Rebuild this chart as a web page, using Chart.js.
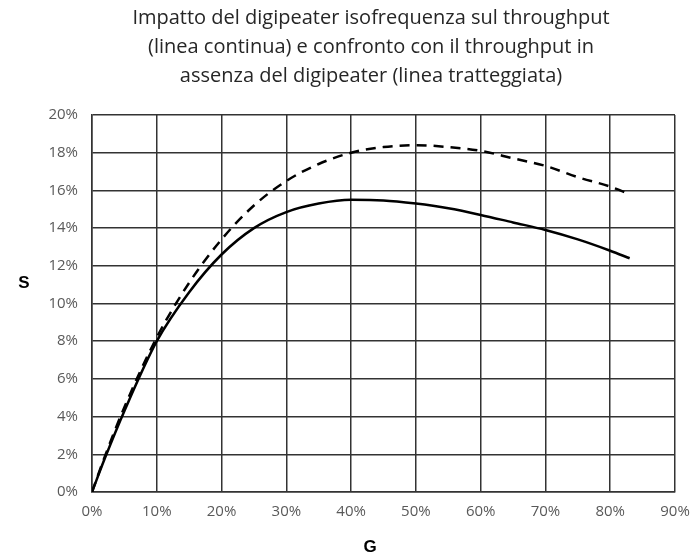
<!DOCTYPE html>
<html>
<head>
<meta charset="utf-8">
<script src="https://cdn.jsdelivr.net/npm/chart.js@4.4.1/dist/chart.umd.min.js"></script>
<style>
  html, body { margin: 0; padding: 0; background: #fff; }
  #wrap { width: 691px; height: 558px; position: relative; }
</style>
</head>
<body>
<div id="wrap"><canvas id="c"></canvas></div>
<script>
// values (percent)
const titleLines = [
  'Impatto del digipeater isofrequenza sul throughput',
  '(linea continua) e confronto con il throughput in',
  'assenza del digipeater (linea tratteggiata)'
];
const xLabel = 'G';
const yLabel = 'S';
const gValues = [0, 2, 5, 10, 15, 20, 25, 30, 35, 40, 45, 50, 55, 60, 65, 70, 75, 80, 83];
const sWithDigi = [0, 1.8, 4.3, 8.0, 10.6, 12.6, 14.0, 14.85, 15.3, 15.5, 15.47, 15.3, 15.05, 14.7, 14.3, 13.9, 13.4, 12.8, 12.4];
const sWithoutDigi = [0, 1.9, 4.5, 8.2, 11.1, 13.4, 15.2, 16.5, 17.4, 18.0, 18.3, 18.4, 18.3, 18.1, 17.7, 17.3, 16.7, 16.2, 15.8];
const xMax = 90, xStep = 10;
const yMax = 20, yStep = 2;

const toPoints = (xs, ys) => xs.map((x, i) => ({ x: x, y: ys[i] }));

// title and axis letters drawn by hand so they sit where the original has them
const labelsPlugin = {
  id: 'manualLabels',
  afterDraw(chart) {
    const ctx = chart.ctx;
    ctx.save();
    ctx.textAlign = 'center';
    ctx.textBaseline = 'middle';
    ctx.fillStyle = '#262626';
    ctx.font = '20px "Open Sans"';
    titleLines.forEach((t, i) => ctx.fillText(t, 371, 18 + i * 29));
    ctx.fillStyle = '#000';
    ctx.font = 'bold 17px "Liberation Sans"';
    ctx.fillText(yLabel, 24, 283);
    ctx.fillText(xLabel, 370, 547);
    ctx.restore();
  }
};

new Chart(document.getElementById('c'), {
  type: 'line',
  data: {
    datasets: [{
      data: toPoints(gValues, sWithDigi),
      borderColor: '#000',
      borderWidth: 2.5,
      pointRadius: 0,
      cubicInterpolationMode: 'monotone',
      fill: false
    }, {
      data: toPoints(gValues, sWithoutDigi),
      borderColor: '#000',
      borderWidth: 2.5,
      borderDash: [10, 7],
      pointRadius: 0,
      cubicInterpolationMode: 'monotone',
      fill: false
    }]
  },
  options: {
    responsive: true,
    maintainAspectRatio: false,
    animation: false,
    layout: { padding: { top: 115, right: 16, left: 0, bottom: 0 } },
    plugins: { legend: { display: false }, tooltip: { enabled: false } },
    scales: {
      x: {
        type: 'linear',
        min: 0, max: xMax,
        afterFit: s => { s.height = 66; s.paddingLeft = 0; s.paddingRight = 0; },
        ticks: {
          stepSize: xStep,
          padding: 11,
          color: '#595959',
          font: { family: '"Open Sans"', size: 15 },
          maxRotation: 0,
          callback: v => v + '%'
        },
        grid: { color: '#333', lineWidth: 1.5, drawTicks: false },
        border: { color: '#333', width: 1.5 }
      },
      y: {
        min: 0, max: yMax,
        afterFit: s => { s.width = 92; s.paddingTop = 0; s.paddingBottom = 0; },
        ticks: {
          stepSize: yStep,
          padding: 14,
          color: '#595959',
          font: { family: '"Open Sans"', size: 15 },
          callback: v => v + '%'
        },
        grid: { color: '#333', lineWidth: 1.5, drawTicks: false },
        border: { color: '#333', width: 1.5 }
      }
    }
  },
  plugins: [labelsPlugin]
});
</script>
</body>
</html>
